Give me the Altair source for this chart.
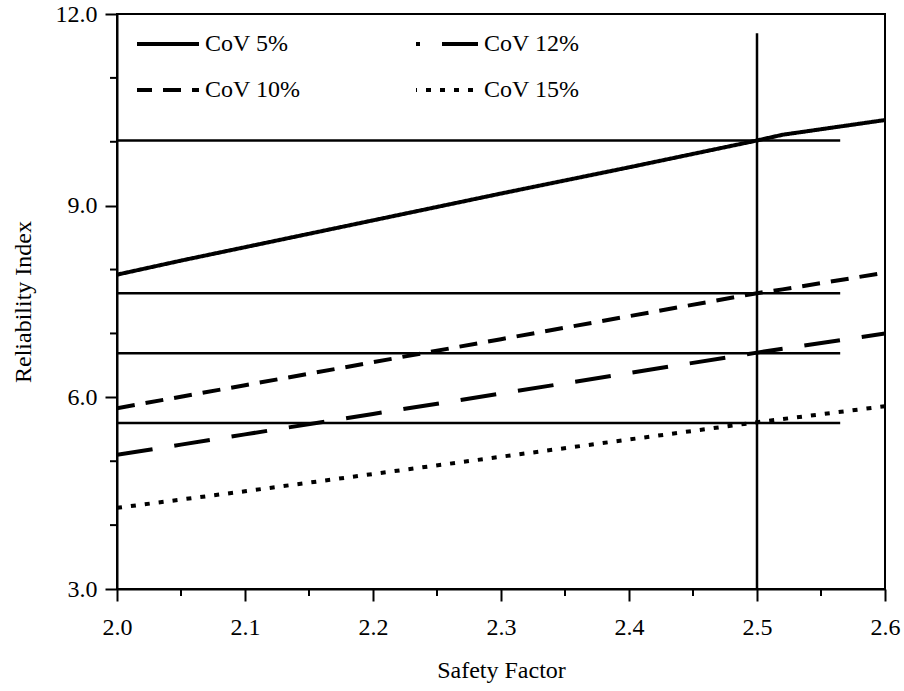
import altair as alt
import pandas as pd

# Safety factor vs. reliability index for four coefficients of variation
safety_factor = [2.0, 2.05, 2.1, 2.2, 2.3, 2.4, 2.5, 2.52, 2.6]
beta_cov5 = [7.92, 8.14, 8.35, 8.77, 9.19, 9.60, 10.02, 10.11, 10.34]
beta_cov10 = [5.83, 6.01, 6.19, 6.55, 6.91, 7.27, 7.63, 7.69, 7.95]
beta_cov12 = [5.10, 5.26, 5.42, 5.74, 6.06, 6.38, 6.70, 6.76, 7.00]
beta_cov15 = [4.27, 4.40, 4.53, 4.80, 5.07, 5.34, 5.61, 5.66, 5.86]

series_names = ["CoV 5%", "CoV 10%", "CoV 12%", "CoV 15%"]
series_dash = [[1, 0], [18, 11], [36, 22], [5, 9]]

# Target reliability levels read at SF = 2.5
target_beta = [10.02, 7.63, 6.69, 5.60]
target_sf_start = 2.0
target_sf_end = 2.565
design_sf = 2.5
design_line_top = 11.7

x_major_ticks = [2.0, 2.1, 2.2, 2.3, 2.4, 2.5, 2.6]
x_minor_ticks = [2.05, 2.15, 2.25, 2.35, 2.45, 2.55]
y_major_ticks = [3, 6, 9, 12]
y_minor_ticks = [4, 5, 7, 8, 10, 11]

rows = []
for name, vals in [("CoV 5%", beta_cov5), ("CoV 10%", beta_cov10),
                   ("CoV 12%", beta_cov12), ("CoV 15%", beta_cov15)]:
    for sf, b in zip(safety_factor, vals):
        rows.append({"series": name, "sf": sf, "beta": b})
curves = pd.DataFrame(rows)

targets = pd.DataFrame({"beta": target_beta,
                        "x1": [target_sf_start] * len(target_beta),
                        "x2": [target_sf_end] * len(target_beta)})
design = pd.DataFrame({"sf": [design_sf], "y1": [3.0], "y2": [design_line_top]})
x_minor = pd.DataFrame({"sf": x_minor_ticks})
y_minor = pd.DataFrame({"beta": y_minor_ticks})

FONT = "Times New Roman, Liberation Serif, serif"
FS = 24
X_MIN, X_MAX, Y_MIN, Y_MAX = 2.0, 2.6, 3, 12

x_scale = alt.Scale(domain=[X_MIN, X_MAX], nice=False, zero=False)
y_scale = alt.Scale(domain=[Y_MIN, Y_MAX], nice=False, zero=False)

axis_style = dict(
    labelFont=FONT, labelFontSize=FS, labelColor="black",
    titleFont=FONT, titleFontSize=FS, titleFontWeight="normal",
    titleColor="black", tickWidth=2, tickColor="black", tickSize=12,
    domainColor="black", domainWidth=2, grid=False,
    labelFlush=False, labelOverlap=False, format=".1f",
)
x_axis = alt.Axis(values=x_major_ticks, labelPadding=14,
                  title="Safety Factor", titlePadding=19, **axis_style)
y_axis = alt.Axis(values=y_major_ticks, labelPadding=8,
                  title="Reliability Index", titlePadding=20, **axis_style)

lines = alt.Chart(curves).mark_line(strokeWidth=4, color="black", clip=True).encode(
    x=alt.X("sf:Q", scale=x_scale, axis=x_axis),
    y=alt.Y("beta:Q", scale=y_scale, axis=y_axis),
    strokeDash=alt.StrokeDash(
        "series:N",
        scale=alt.Scale(domain=series_names, range=series_dash),
        sort=series_names,
        legend=alt.Legend(
            title=None, orient="none", legendX=18, legendY=-3,
            columns=2, columnPadding=107, rowPadding=1, padding=0,
            symbolType="stroke", symbolSize=3844, symbolStrokeWidth=4,
            symbolStrokeColor="black", symbolDashOffset=32,
            labelFont=FONT, labelFontSize=FS, labelColor="black",
            labelOffset=4, labelLimit=0,
        ),
    ),
    detail="series:N",
)

hrules = alt.Chart(targets).mark_rule(strokeWidth=2.5, color="black").encode(
    x=alt.X("x1:Q", scale=x_scale),
    x2="x2:Q",
    y=alt.Y("beta:Q", scale=y_scale),
)

vrule = alt.Chart(design).mark_rule(strokeWidth=2.5, color="black").encode(
    x=alt.X("sf:Q", scale=x_scale),
    y=alt.Y("y1:Q", scale=y_scale),
    y2="y2:Q",
)

# Short minor ticks just outside the bottom and left axis lines
x_minor_marks = alt.Chart(x_minor).mark_rule(
    strokeWidth=2, color="black", clip=False, y2Offset=7
).encode(
    x=alt.X("sf:Q", scale=x_scale),
    y=alt.YDatum(Y_MIN, scale=y_scale),
    y2=alt.Y2Datum(Y_MIN),
)
y_minor_marks = alt.Chart(y_minor).mark_rule(
    strokeWidth=2, color="black", clip=False, x2Offset=-7
).encode(
    y=alt.Y("beta:Q", scale=y_scale),
    x=alt.XDatum(X_MIN, scale=x_scale),
    x2=alt.X2Datum(X_MIN),
)

chart = (
    alt.layer(lines, hrules, vrule, x_minor_marks, y_minor_marks)
    .properties(
        width=768, height=575,
        autosize=alt.AutoSizeParams(type="none"),
        padding={"left": 117, "top": 14, "right": 19, "bottom": 102},
        background="white",
    )
    .configure_view(stroke="black", strokeWidth=2)
)

chart.save("out.html", embed_options={"renderer": "svg", "actions": False})
